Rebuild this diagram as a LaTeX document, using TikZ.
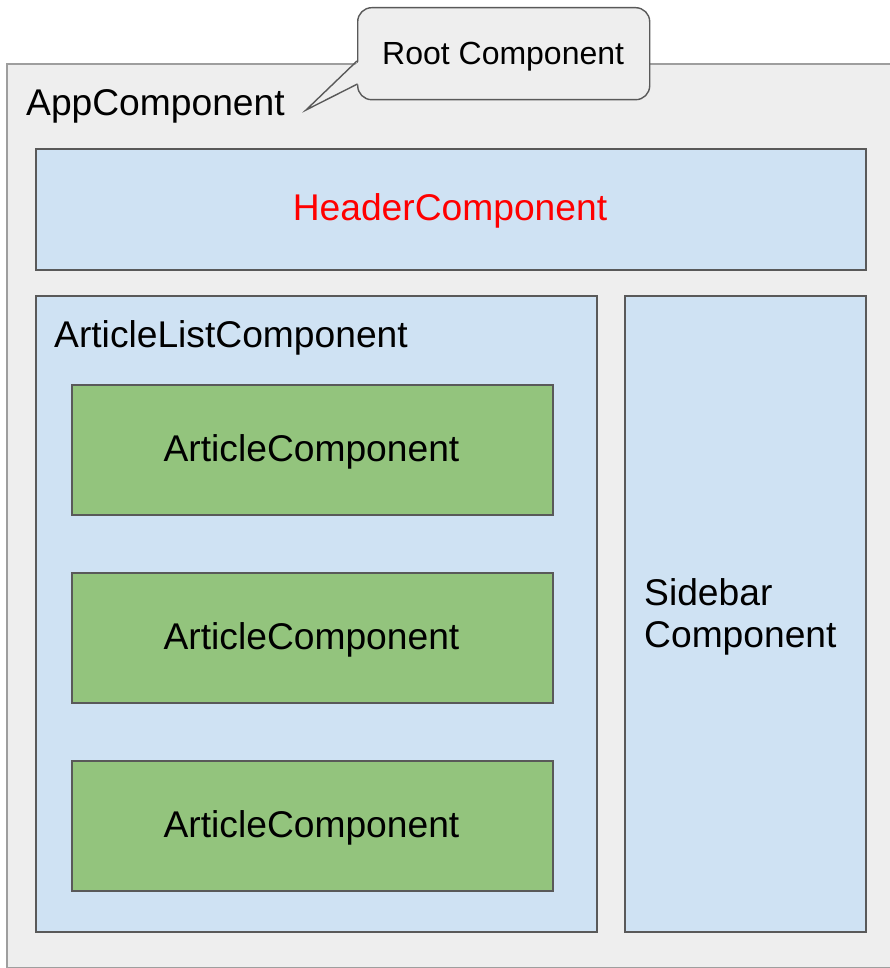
\documentclass[tikz,border=0pt]{standalone}
\usepackage{fontspec}
\setmainfont{Liberation Sans}
\usetikzlibrary{shadows}
\definecolor{outerfill}{HTML}{EEEEEE}
\definecolor{outerline}{HTML}{9E9E9E}
\definecolor{boxline}{HTML}{595959}
\definecolor{bluefill}{HTML}{CFE2F3}
\definecolor{greenfill}{HTML}{93C47D}
\begin{document}
\begin{tikzpicture}[x=1pt,y=-1pt,
  frame/.style={draw=boxline, line width=1.6pt, anchor=north west, inner sep=0pt,
    drop shadow={shadow xshift=1pt, shadow yshift=-1pt, opacity=0.3, fill=black}},
  bluebox/.style={frame, fill=bluefill},
  greenbox/.style={frame, fill=greenfill, minimum width=481pt, minimum height=130pt},
  lbl/.style={inner sep=0pt, font=\fontsize{37.2}{42}\selectfont}]
\useasboundingbox (0,0) rectangle (889,968);
% outer app box
\node[draw=outerline, fill=outerfill, line width=1.6pt, anchor=north west,
      minimum width=900pt, minimum height=904pt, inner sep=0pt] (app) at (6,63) {};
% callout
\node[draw=boxline, fill=outerfill, line width=1.4pt, rounded corners=14pt,
      minimum width=292pt, minimum height=92pt, anchor=north west, inner sep=0pt] (root) at (357,7) {};
\coordinate (tip) at (306,110);
\fill[outerfill] (359.5,61) -- (tip) -- (359.5,84) -- cycle;
\draw[boxline, line width=1.4pt] (357,61) -- (tip) -- (357.5,84);
\node[inner sep=0pt, anchor=base west, font=\fontsize{32}{38}\selectfont] (rootlbl) at (382,65) {Root Component};
% app label
\node[lbl, anchor=base west] (applbl) at (26,116) {AppComponent};
% header
\node[bluebox, minimum width=830pt, minimum height=121pt] (header) at (35,148) {};
\node[lbl, anchor=base, text=red] (headerlbl) at (450,221) {HeaderComponent};
% article list
\node[bluebox, minimum width=561pt, minimum height=636pt] (list) at (35,295) {};
\node[lbl, anchor=base west] (listlbl) at (54,347) {ArticleListComponent};
% articles
\node[greenbox] (a1) at (71,384) {};
\node[greenbox] (a2) at (71,572) {};
\node[greenbox] (a3) at (71,760) {};
\node[lbl, anchor=base] (a1lbl) at (311.5,461) {ArticleComponent};
\node[lbl, anchor=base] (a2lbl) at (311.5,649) {ArticleComponent};
\node[lbl, anchor=base] (a3lbl) at (311.5,837) {ArticleComponent};
% sidebar
\node[bluebox, minimum width=241pt, minimum height=636pt] (side) at (624,295) {};
\node[lbl, anchor=base west] (sidelbl1) at (644,605) {Sidebar};
\node[lbl, anchor=base west] (sidelbl2) at (644,647) {Component};
\end{tikzpicture}
\end{document}
